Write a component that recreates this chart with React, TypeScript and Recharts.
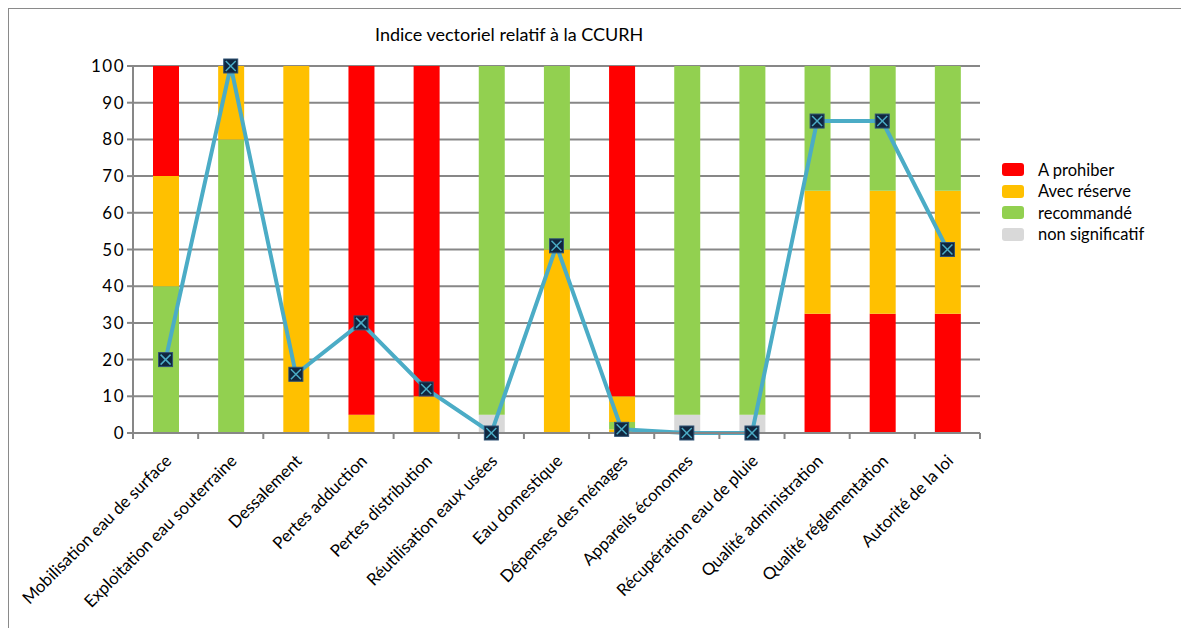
import React from 'react';
import { ComposedChart, Bar, Line, XAxis, YAxis, CartesianGrid } from 'recharts';

const categories = [
  'Mobilisation eau de surface',
  'Exploitation eau souterraine',
  'Dessalement',
  'Pertes adduction',
  'Pertes distribution',
  'Réutilisation eaux usées',
  'Eau domestique',
  'Dépenses des ménages',
  'Appareils économes',
  'Récupération eau de pluie',
  'Qualité administration',
  'Qualité réglementation',
  'Autorité de la loi',
];

// stacked segments, bottom to top
const redLow = [0, 0, 0, 0, 0, 0, 0, 0, 0, 0, 32.5, 32.5, 32.5];
const greyVals = [0, 0, 0, 0, 0, 5, 0, 0, 5, 5, 0, 0, 0];
const orangeLow = [0, 0, 0, 0, 0, 0, 0, 1, 0, 0, 0, 0, 0];
const greenVals = [40, 80, 0, 0, 0, 95, 0, 2, 95, 95, 0, 0, 0];
const orangeVals = [30, 20, 100, 5, 10, 0, 50, 7, 0, 0, 33.5, 33.5, 33.5];
const redHigh = [30, 0, 0, 95, 90, 0, 0, 90, 0, 0, 0, 0, 0];
const greenHigh = [0, 0, 0, 0, 0, 0, 50, 0, 0, 0, 34, 34, 34];

const indexVals = [20, 100, 16, 30, 12, 0, 51, 1, 0, 0, 85, 85, 50];

const yTicks = [0, 10, 20, 30, 40, 50, 60, 70, 80, 90, 100];

const RED = '#FF0000';
const ORANGE = '#FFC000';
const GREEN = '#92D050';
const GREY = '#D9D9D9';
const LINE = '#4BACC6';
const GRID = '#878787';

const legendItems = [
  { label: 'A prohiber', color: RED },
  { label: 'Avec réserve', color: ORANGE },
  { label: 'recommandé', color: GREEN },
  { label: 'non significatif', color: GREY },
];

const data = categories.map((c, i) => ({
  x: i + 0.5,
  name: c,
  redLow: redLow[i],
  grey: greyVals[i],
  orangeLow: orangeLow[i],
  green: greenVals[i],
  orange: orangeVals[i],
  redHigh: redHigh[i],
  greenHigh: greenHigh[i],
  index: indexVals[i],
}));

// ticks at category boundaries (integers) and centers (halves)
const xTicks: number[] = [];
for (let i = 0; i <= categories.length * 2; i++) xTicks.push(i / 2);

const FONT = 'Lato, "Open Sans", sans-serif';

const XTick = (props: any) => {
  const { x, y, payload } = props;
  const v = payload.value as number;
  if (Number.isInteger(v)) {
    return <line x1={x} y1={y} x2={x} y2={y + 6} stroke={GRID} strokeWidth={2} />;
  }
  const label = categories[Math.floor(v)];
  const ax = x + 7;
  const ay = y + 29;
  return (
    <text
      x={ax}
      y={ay}
      textAnchor="end"
      transform={`rotate(-45 ${ax} ${ay})`}
      fontFamily={FONT}
      fontSize={16.8}
      fill="#000"
    >
      {label}
    </text>
  );
};

const YTick = (props: any) => {
  const { x, y, payload } = props;
  return (
    <text x={x} y={y} dy={6} textAnchor="end" fontFamily={FONT} fontSize={17} fill="#000" letterSpacing={1.5}>
      {payload.value}
    </text>
  );
};

const Marker = (props: any) => {
  const { cx, cy } = props;
  if (cx == null || cy == null) return null;
  const s = 7;
  return (
    <g>
      <rect x={cx - s} y={cy - s} width={2 * s} height={2 * s} fill="#10263F" stroke="#2E5275" strokeWidth={1} />
      <line x1={cx - s + 2} y1={cy - s + 2} x2={cx + s - 2} y2={cy + s - 2} stroke={LINE} strokeWidth={1.5} />
      <line x1={cx + s - 2} y1={cy - s + 2} x2={cx - s + 2} y2={cy + s - 2} stroke={LINE} strokeWidth={1.5} />
    </g>
  );
};

export default function App() {
  return (
    <div
      style={{
        position: 'relative',
        width: 1182,
        height: 621,
        marginLeft: -1,
        marginTop: -1,
        overflow: 'hidden',
        background: '#fff',
      }}
    >
      <div
        style={{
          position: 'absolute',
          left: 0,
          top: 0,
          width: 1300,
          height: 700,
          borderTop: '2px solid #8a8a8a',
          borderLeft: '2px solid #8a8a8a',
          boxSizing: 'border-box',
        }}
      />
      <div
        style={{
          position: 'absolute',
          left: 368,
          top: 16,
          fontFamily: FONT,
          fontSize: 18,
          color: '#000',
          whiteSpace: 'nowrap',
        }}
      >
        Indice vectoriel relatif à la CCURH
      </div>
      <div style={{ position: 'absolute', left: 0, top: 0 }}>
        <ComposedChart
          width={1182}
          height={621}
          data={data}
          margin={{ top: 59, right: 209, bottom: 0, left: 0 }}
        >
          <CartesianGrid vertical={false} stroke={GRID} strokeWidth={2} />
          <XAxis
            dataKey="x"
            type="number"
            domain={[0, categories.length]}
            ticks={xTicks}
            interval={0}
            tickLine={false}
            tickSize={0}
            tickMargin={0}
            axisLine={{ stroke: GRID, strokeWidth: 2 }}
            tick={<XTick />}
            height={195}
            allowDecimals
          />
          <YAxis
            domain={[0, 100]}
            ticks={yTicks}
            interval={0}
            width={126}
            axisLine={{ stroke: GRID, strokeWidth: 2 }}
            tickLine={{ stroke: GRID, strokeWidth: 2 }}
            tickSize={6}
            tickMargin={2}
            tick={<YTick />}
          />
          <Bar dataKey="redLow" stackId="s" fill={RED} barSize={26} isAnimationActive={false} />
          <Bar dataKey="grey" stackId="s" fill={GREY} barSize={26} isAnimationActive={false} />
          <Bar dataKey="orangeLow" stackId="s" fill={ORANGE} barSize={26} isAnimationActive={false} />
          <Bar dataKey="green" stackId="s" fill={GREEN} barSize={26} isAnimationActive={false} />
          <Bar dataKey="orange" stackId="s" fill={ORANGE} barSize={26} isAnimationActive={false} />
          <Bar dataKey="redHigh" stackId="s" fill={RED} barSize={26} isAnimationActive={false} />
          <Bar dataKey="greenHigh" stackId="s" fill={GREEN} barSize={26} isAnimationActive={false} />
          <Line
            dataKey="index"
            stroke={LINE}
            strokeWidth={4}
            dot={<Marker />}
            activeDot={false}
            isAnimationActive={false}
          />
        </ComposedChart>
      </div>
      <div
        style={{
          position: 'absolute',
          left: 995,
          top: 152,
          fontFamily: FONT,
          fontSize: 16.5,
          color: '#000',
        }}
      >
        {legendItems.map((it) => (
          <div key={it.label} style={{ display: 'flex', alignItems: 'center', height: 21.5 }}>
            <div style={{ width: 22, height: 13, borderRadius: 3, background: it.color, marginRight: 14 }} />
            <span style={{ whiteSpace: 'nowrap' }}>{it.label}</span>
          </div>
        ))}
      </div>
    </div>
  );
}
